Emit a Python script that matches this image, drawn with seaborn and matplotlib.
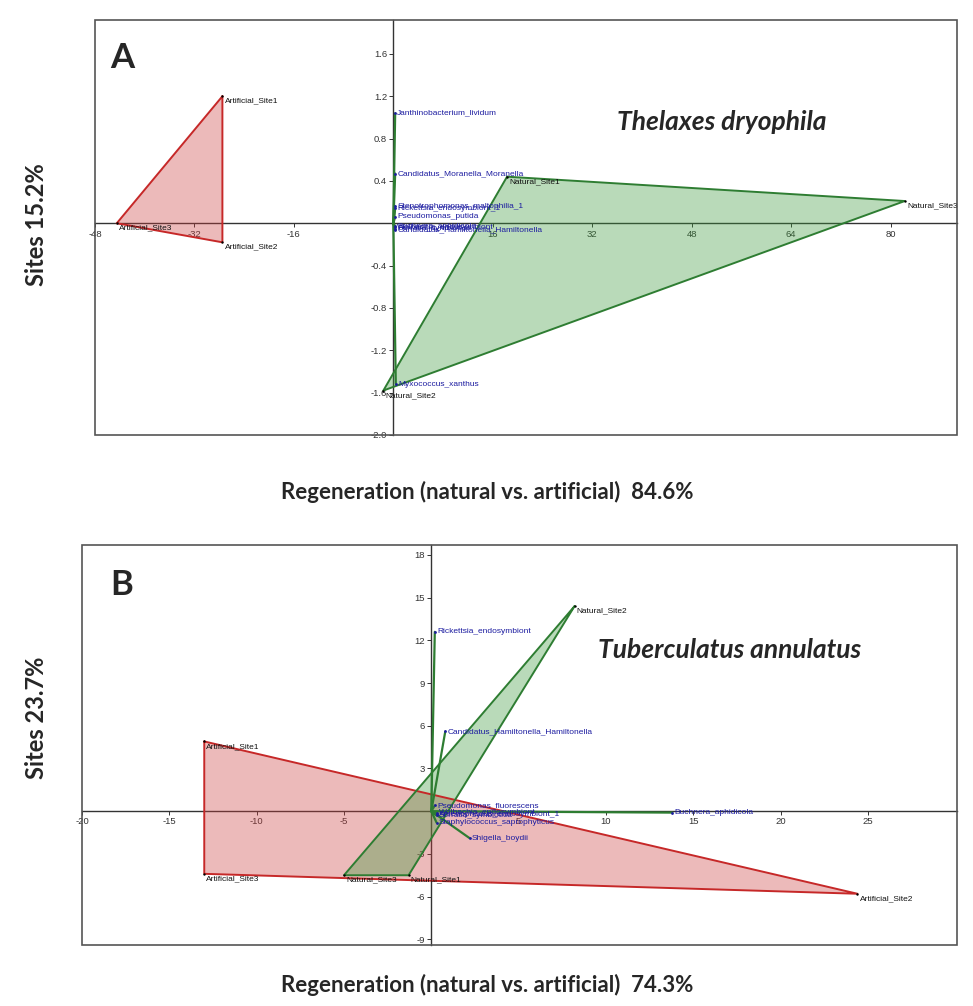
import matplotlib
matplotlib.use("Agg")
import matplotlib.pyplot as plt
import seaborn as sns
import pandas as pd
from matplotlib.patches import Rectangle

# ---------------- data ----------------
# Panel A  (Thelaxes dryophila)
a_site_names = ["Artificial_Site1", "Artificial_Site3", "Artificial_Site2",
                "Natural_Site1", "Natural_Site3", "Natural_Site2"]
a_site_group = ["Artificial", "Artificial", "Artificial", "Natural", "Natural", "Natural"]
a_site_x = [-27.5, -44.5, -27.5, 18.3, 82.3, -1.6]
a_site_y = [1.20, 0.00, -0.18, 0.44, 0.21, -1.58]

a_sp_names = ["Janthinobacterium_lividum", "Candidatus_Moranella_Moranella",
              "Stenotrophomonas_maltophilia_1", "Rickettsia_endosymbiont_1",
              "Pseudomonas_putida", "Buchnera_aphidicola", "Wolbachia_endosymbiont",
              "Serratia_symbiotica", "Candidatus_Hamiltonella_Hamiltonella",
              "Myxococcus_xanthus"]
a_sp_x = [0.3, 0.3, 0.3, 0.3, 0.3, 0.3, 0.3, 0.3, 0.3, 0.4]
a_sp_y = [1.04, 0.47, 0.16, 0.14, 0.06, -0.03, -0.04, -0.05, -0.06, -1.52]

a_xticks = [-48, -32, -16, 16, 32, 48, 64, 80]
a_yticks = [-2.0, -1.6, -1.2, -0.8, -0.4, 0.4, 0.8, 1.2, 1.6]

# Panel B  (Tuberculatus annulatus)
b_site_names = ["Artificial_Site1", "Artificial_Site3", "Artificial_Site2",
                "Natural_Site2", "Natural_Site3", "Natural_Site1"]
b_site_group = ["Artificial", "Artificial", "Artificial", "Natural", "Natural", "Natural"]
b_site_x = [-13.0, -13.0, 24.4, 8.2, -5.0, -1.3]
b_site_y = [4.9, -4.4, -5.8, 14.4, -4.5, -4.5]

b_sp_names = ["Rickettsia_endosymbiont", "Candidatus_Hamiltonella_Hamiltonella",
              "Pseudomonas_fluorescens", "Wolbachia_endosymbiont",
              "Arsenophonus_endosymbiont_1", "Serratia_symbiotica",
              "Staphylococcus_saprophyticus", "Buchnera_aphidicola", "Shigella_boydii"]
b_sp_x = [0.2, 0.8, 0.2, 0.3, 0.3, 0.3, 0.3, 13.8, 2.2]
b_sp_y = [12.6, 5.6, 0.4, -0.1, -0.2, -0.3, -0.8, -0.1, -1.9]

b_xticks = [-20, -15, -10, -5, 5, 10, 15, 20, 25]
b_yticks = [-9, -6, -3, 3, 6, 9, 12, 15, 18]

# ---------------- style ----------------
sns.set_theme(style="white")
plt.rcParams["font.family"] = ["Liberation Sans", "DejaVu Sans"]

W, H = 973, 1006
fig = plt.figure(figsize=(W / 100, H / 100), dpi=100)

RED_EDGE = "#c62828"
RED_FILL = (0.80, 0.25, 0.25)
GREEN_EDGE = "#2e7d32"
GREEN_FILL = (0.24, 0.60, 0.24)
BLUE = "#1c1ca0"
AXCOL = "#555555"


def fx(x):
    return x / W


def fy(y):
    return 1 - y / H


def panel(rect, xlim, ylim, xticks, yticks, fmt,
          site_names, site_group, site_x, site_y,
          sp_names, sp_x, sp_y):
    ax = fig.add_axes(rect)
    ax.set_xlim(*xlim)
    ax.set_ylim(*ylim)
    sites = pd.DataFrame({"name": site_names, "group": site_group,
                          "x": site_x, "y": site_y})
    species = pd.DataFrame({"name": sp_names, "x": sp_x, "y": sp_y})

    # hulls
    for grp, ec, fc in [("Artificial", RED_EDGE, RED_FILL),
                        ("Natural", GREEN_EDGE, GREEN_FILL)]:
        d = sites[sites.group == grp]
        ax.fill(d.x, d.y, color=fc, alpha=0.36, lw=0, zorder=2)
        closed = pd.concat([d, d.iloc[:1]], ignore_index=True)
        sns.lineplot(data=closed, x="x", y="y", sort=False, estimator=None,
                     color=ec, lw=1.4, ax=ax, zorder=3, legend=False)

    # species vectors
    for _, r in species.iterrows():
        ax.plot([0, r.x], [0, r.y], color=GREEN_EDGE, lw=1.6, zorder=4)
    sns.scatterplot(data=species, x="x", y="y", color=BLUE, s=4,
                    linewidth=0, ax=ax, zorder=5, legend=False)
    sns.scatterplot(data=sites, x="x", y="y", color="black", s=3,
                    linewidth=0, ax=ax, zorder=5, legend=False)

    for _, r in sites.iterrows():
        ax.annotate(r["name"], (r.x, r.y), xytext=(1.5, -3.5),
                    textcoords="offset points", fontsize=6,
                    color="#111111", va="center", ha="left", zorder=6)
    for _, r in species.iterrows():
        ax.annotate(r["name"], (r.x, r.y), xytext=(1.5, 0),
                    textcoords="offset points", fontsize=6,
                    color=BLUE, va="center", ha="left", zorder=6)

    # axes through origin
    for s in ["top", "right"]:
        ax.spines[s].set_visible(False)
    ax.spines["left"].set_position(("data", 0))
    ax.spines["bottom"].set_position(("data", 0))
    for s in ["left", "bottom"]:
        ax.spines[s].set_color("#333333")
        ax.spines[s].set_linewidth(1.0)
        ax.spines[s].set_zorder(1)
    ax.set_xticks(xticks)
    ax.set_yticks(yticks)
    ax.set_xticklabels([fmt(t) for t in xticks])
    ax.set_yticklabels([fmt(t) for t in yticks])
    ax.tick_params(axis="both", which="both", direction="out", length=3,
                   width=0.7, colors="#333333", labelsize=6.8, pad=1.5)
    ax.tick_params(left=True, bottom=True)
    ax.set_xlabel("")
    ax.set_ylabel("")
    ax.add_patch(Rectangle((0, 0), 1, 1, transform=ax.transAxes, fill=False,
                           ec=AXCOL, lw=1.2, clip_on=False, zorder=10))
    return ax


panel([fx(95), fy(435), fx(957) - fx(95), fy(20) - fy(435)],
      (-48, 90.7), (-2.0, 1.92), a_xticks, a_yticks,
      lambda t: f"{t:.1f}" if isinstance(t, float) else f"{t}",
      a_site_names, a_site_group, a_site_x, a_site_y,
      a_sp_names, a_sp_x, a_sp_y)

panel([fx(82), fy(945), fx(957) - fx(82), fy(545) - fy(945)],
      (-20, 30.1), (-9.4, 18.7), b_xticks, b_yticks,
      lambda t: f"{t}",
      b_site_names, b_site_group, b_site_x, b_site_y,
      b_sp_names, b_sp_x, b_sp_y)

big = ["Lato", "DejaVu Sans"]
fig.text(fx(110), fy(58), "A", fontsize=25, fontweight="bold", family=big,
         ha="left", va="center")
fig.text(fx(110), fy(585), "B", fontsize=25, fontweight="bold", family=big,
         ha="left", va="center")
fig.text(fx(617), fy(122), "Thelaxes dryophila", fontsize=19, fontweight="bold",
         fontstyle="italic", family=big, ha="left", va="center")
fig.text(fx(598), fy(650), "Tuberculatus annulatus", fontsize=19,
         fontweight="bold", fontstyle="italic", family=big, ha="left", va="center")
fig.text(fx(37), fy(225), "Sites 15.2%", fontsize=17, fontweight="bold",
         family=big, rotation=90, ha="center", va="center")
fig.text(fx(37), fy(718), "Sites 23.7%", fontsize=17, fontweight="bold",
         family=big, rotation=90, ha="center", va="center")
fig.text(fx(487), fy(492), "Regeneration (natural vs. artificial)  84.6%",
         fontsize=16, fontweight="bold", family=big, ha="center", va="center")
fig.text(fx(487), fy(985), "Regeneration (natural vs. artificial)  74.3%",
         fontsize=16, fontweight="bold", family=big, ha="center", va="center")

fig.savefig("out.png", dpi=100)
